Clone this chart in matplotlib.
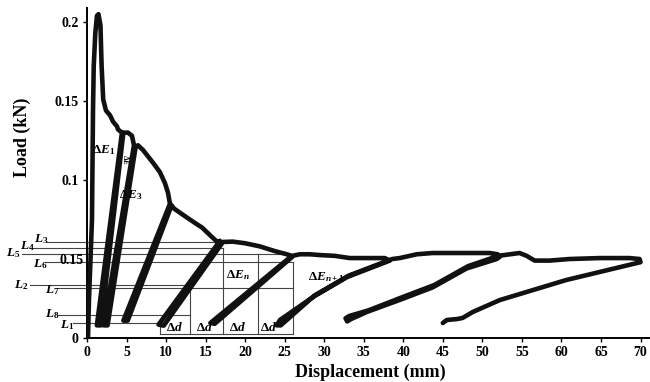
import matplotlib
matplotlib.use("Agg")
import matplotlib.pyplot as plt

plt.rcParams['font.family'] = ['Liberation Serif', 'DejaVu Serif']
plt.rcParams['mathtext.fontset'] = 'custom'
plt.rcParams['mathtext.rm'] = 'Liberation Serif:bold'
plt.rcParams['mathtext.it'] = 'Liberation Serif:italic:bold'
plt.rcParams['mathtext.bf'] = 'Liberation Serif:bold'

# curva carga x deslocamento (ciclos de carga/descarga)
disp = [0.13, 0.25, 0.63, 0.76, 0.85, 1.05, 1.26, 1.45, 1.70, 1.85, 2.05, 2.40, 2.91, 3.29, 3.79, 3.92, 4.42,
        1.25, 1.75, 4.60,                      # ciclo 1
        5.18, 5.69, 5.94,
        2.10, 2.60, 6.15,                      # ciclo 2
        6.44, 7.08, 7.71, 8.34, 9.22, 9.86, 10.24, 10.49,
        4.60, 5.15, 10.70,                     # ciclo 3
        10.99, 12.13, 13.90, 14.53, 15.16, 15.79, 16.43, 16.81,
        9.05, 9.70, 17.20,                     # ciclo 4
        18.45, 19.96, 21.86, 23.76, 25.27, 25.90,
        15.6, 16.15, 26.15,                    # ciclo 5
        26.91, 28.18, 29.44, 31.34, 33.23, 35.76, 37.65, 38.29,
        32.9, 28.6, 24.4, 24.0, 24.5, 28.8, 33.1, 38.6,   # ciclo 6
        39.55, 41.70, 43.72, 48.02, 50.92, 51.93, 52.19, 51.81,
        48.0, 43.7, 39.5, 35.4, 33.4, 32.9, 32.7, 33.2, 35.6, 39.7, 43.9, 48.2, 52.0, 54.7,  # ciclo 7
        55.60, 56.61, 58.50, 61.03, 64.82, 68.61, 69.88, 70.0,
        60.6, 52.2, 48.8, 47.5, 46.8, 45.5, 45.0]          # ciclo 8
load = [0.0006, 0.024, 0.075, 0.144, 0.172, 0.193, 0.204, 0.205, 0.198, 0.172, 0.151, 0.144, 0.141, 0.137, 0.134, 0.132, 0.130,
        0.008, 0.008, 0.130,
        0.130, 0.128, 0.122,
        0.008, 0.008, 0.121,
        0.122, 0.119, 0.115, 0.111, 0.105, 0.098, 0.092, 0.085,
        0.011, 0.011, 0.084,
        0.082, 0.078, 0.072, 0.070, 0.067, 0.064, 0.061, 0.0615,
        0.0085, 0.0078, 0.0608,
        0.061, 0.060, 0.058, 0.055, 0.053, 0.052,
        0.0095, 0.0090, 0.0522,
        0.053, 0.053, 0.0525, 0.052, 0.0506, 0.0506, 0.0506, 0.049,
        0.0386, 0.026, 0.0114, 0.008, 0.008, 0.027, 0.0395, 0.050,
        0.0506, 0.053, 0.0538, 0.0538, 0.0538, 0.053, 0.0513, 0.050,
        0.044, 0.032, 0.024, 0.0165, 0.0120, 0.0105, 0.0125, 0.0140, 0.0175, 0.0255, 0.0335, 0.0455, 0.0520, 0.0538,
        0.052, 0.049, 0.049, 0.050, 0.0506, 0.0506, 0.050, 0.048,
        0.0367, 0.024, 0.0165, 0.0127, 0.012, 0.0114, 0.0095]

# linhas de referencia L1..L8 (nivel, inicio, fim)
ref_names = ['L_3', 'L_4', 'L_5', 'L_6', 'L_2', 'L_7', 'L_8', 'L_1']
ref_levels = [0.0608, 0.0570, 0.0532, 0.0481, 0.0335, 0.0316, 0.0146, 0.0095]
ref_start = [-5.05, -6.8, -8.2, -5.3, -7.2, -3.7, -3.7, -1.8]
ref_end = [17.0, 17.2, 26.0, 26.0, 13.0, 26.0, 13.0, 9.2]
label_x = [-5.8, -7.5, -9.3, -5.9, -8.3, -4.4, -4.4, -2.5]
label_y = [0.0625, 0.0580, 0.0540, 0.0468, 0.0335, 0.0302, 0.0152, 0.0082]

# divisoes verticais (delta d)
div_x = [9.22, 13.0, 17.2, 21.6, 26.0]
div_top = [0.008, 0.0316, 0.0570, 0.0532, 0.0481]
base_y = 0.0025

fig = plt.figure(figsize=(6.5, 3.82), dpi=100)
ax = fig.add_axes([87/650, 44/382, 563/650, 330/382])

for nm, lv, x0, x1, tx, ty in zip(ref_names, ref_levels, ref_start, ref_end, label_x, label_y):
    ax.plot([x0, x1], [lv, lv], color='#444444', lw=0.8, clip_on=False, zorder=1)
    ax.text(tx, ty, '$' + nm + '$', fontsize=9.5, ha='center', va='center', clip_on=False)

for x, top in zip(div_x, div_top):
    ax.plot([x, x], [base_y, top], color='#444444', lw=0.8, zorder=1)
ax.plot([div_x[0], div_x[-1]], [base_y, base_y], color='#444444', lw=0.8, zorder=1)

ax.plot(disp, load, color='#111111', lw=3.3, solid_joinstyle='round', solid_capstyle='round', zorder=3)

# textos
ax.text(-2.0, 0.049, '0.15', fontsize=10, fontweight='bold', ha='center', va='center', clip_on=False)
ax.text(2.1, 0.119, r'$\Delta E_{1}$', fontsize=9.5, ha='center', va='center')
ax.text(4.95, 0.113, r'$\Delta E$', fontsize=5.5, ha='center', va='center', rotation=-90)
ax.text(5.5, 0.0905, r'$\Delta E_{3}$', fontsize=9.5, ha='center', va='center')
ax.text(19.1, 0.040, r'$\Delta E_{n}$', fontsize=9.5, ha='center', va='center')
ax.text(30.3, 0.0386, r'$\Delta E_{n+1}$', fontsize=9.5, ha='center', va='center')
for x in [11.1, 14.9, 19.1, 22.9]:
    ax.text(x, 0.0065, r'$\Delta d$', fontsize=9.5, ha='center', va='center', zorder=4)

ax.set_xlim(0, 71.2)
ax.set_ylim(0, 0.2089)
ax.set_xticks(range(0, 71, 5))
ax.set_yticks([0, 0.1, 0.15, 0.2])
ax.set_yticklabels(['0', '0.1', '0.15', '0.2'])
ax.spines['top'].set_visible(False)
ax.spines['right'].set_visible(False)
ax.spines['left'].set_linewidth(1.4)
ax.spines['bottom'].set_linewidth(1.4)
ax.tick_params(length=3, width=1, labelsize=10, pad=3)
for t in ax.get_xticklabels() + ax.get_yticklabels():
    t.set_fontweight('bold')

fig.text(22/650, 1 - 137/382, 'Load (kN)', rotation=90, ha='center', va='center',
         fontsize=13, fontweight='bold')
fig.text(370/650, 1 - 372/382, 'Displacement (mm)', ha='center', va='center',
         fontsize=13, fontweight='bold')

fig.savefig('out.png', dpi=100)
